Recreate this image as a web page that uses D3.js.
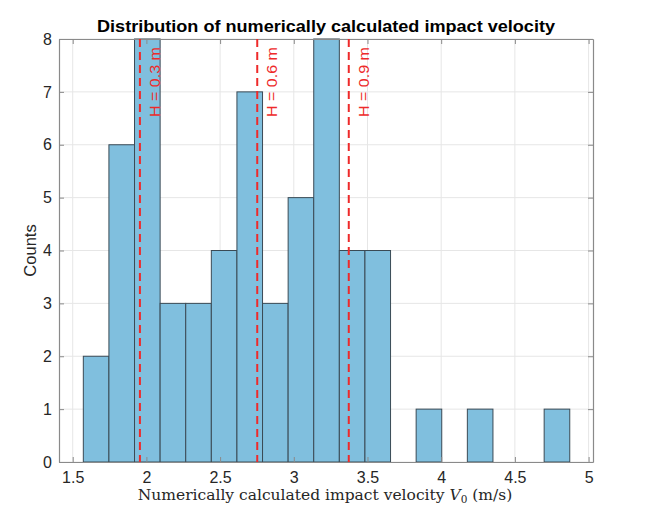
<!DOCTYPE html>
<html><head><meta charset="utf-8">
<script src="https://cdn.jsdelivr.net/npm/d3@7"></script>
<style>body{margin:0;background:#fff;} svg{display:block;}</style>
</head><body>
<svg id="c" width="649" height="508"></svg>
<script>
const binStart = 1.572;
const binWidth = 0.1737;
const counts = [2,6,8,3,3,4,7,3,5,8,4,4,0,1,0,1,0,0,1];
const refValues = [1.956, 2.752, 3.373];
const refLabels = ["H = 0.3 m", "H = 0.6 m", "H = 0.9 m"];
const xTicks = [1.5,2,2.5,3,3.5,4,4.5,5];
const yTicks = [0,1,2,3,4,5,6,7,8];
const title = "Distribution of numerically calculated impact velocity";

const svg = d3.select("#c");
const L=59, R=593, T=39, B=462;
const x = d3.scaleLinear().domain([1.407, 5.03]).range([L,R]);
const y = d3.scaleLinear().domain([0,8]).range([B,T]);
const sans = "Liberation Sans, Arial, sans-serif";

// grid
svg.append("g").selectAll("line").data(xTicks).join("line")
  .attr("x1",d=>x(d)).attr("x2",d=>x(d)).attr("y1",T).attr("y2",B)
  .attr("stroke","#e6e6e6").attr("stroke-width",1);
svg.append("g").selectAll("line").data(yTicks).join("line")
  .attr("y1",d=>y(d)).attr("y2",d=>y(d)).attr("x1",L).attr("x2",R)
  .attr("stroke","#e6e6e6").attr("stroke-width",1);

// bars
const bins = counts.map((c,i)=>({x0:binStart+i*binWidth, x1:binStart+(i+1)*binWidth, c}));
svg.append("g").selectAll("rect").data(bins.filter(b=>b.c>0)).join("rect")
  .attr("x",d=>x(d.x0)).attr("width",d=>x(d.x1)-x(d.x0))
  .attr("y",d=>y(d.c)).attr("height",d=>B-y(d.c))
  .attr("fill","#80bfde").attr("stroke","#3a4a55").attr("stroke-width",1);

// axes
const gx = svg.append("g").attr("transform",`translate(0,${B})`)
  .call(d3.axisBottom(x).tickValues(xTicks).tickSizeInner(-5).tickSizeOuter(0).tickPadding(10).tickFormat(d3.format("")));
const gxt = svg.append("g").attr("transform",`translate(0,${T})`)
  .call(d3.axisTop(x).tickValues(xTicks).tickSizeInner(-5).tickSizeOuter(0).tickFormat(""));
const gy = svg.append("g").attr("transform",`translate(${L},0)`)
  .call(d3.axisLeft(y).tickValues(yTicks).tickSizeInner(-5).tickSizeOuter(0).tickPadding(7));
const gyr = svg.append("g").attr("transform",`translate(${R},0)`)
  .call(d3.axisRight(y).tickValues(yTicks).tickSizeInner(-5).tickSizeOuter(0).tickFormat(""));
[gx,gxt,gy,gyr].forEach(g=>{
  g.select(".domain").attr("stroke","#8a8a8a").attr("stroke-width",1.2);
  g.selectAll(".tick line").attr("stroke","#8a8a8a");
  g.selectAll("text").attr("font-family",sans).attr("font-size",16).attr("fill","#262626");
});

// reference lines
const rg = svg.append("g");
rg.selectAll("line").data(refValues).join("line")
  .attr("x1",d=>x(d)).attr("x2",d=>x(d)).attr("y1",T).attr("y2",B)
  .attr("stroke","#ee2a2a").attr("stroke-width",2).attr("stroke-dasharray","8,5");
rg.selectAll("text").data(refValues).join("text")
  .attr("transform",d=>`translate(${x(d)+20},${T+8}) rotate(-90)`)
  .attr("text-anchor","end")
  .attr("font-family",sans).attr("font-size",15)
  .attr("textLength",70).attr("lengthAdjust","spacingAndGlyphs")
  .attr("fill","#ee2a2a").text((d,i)=>refLabels[i]);

// title
svg.append("text").attr("x",(L+R)/2).attr("y",32).attr("text-anchor","middle")
  .attr("font-family",sans).attr("font-weight","bold")
  .attr("font-size",16.5).attr("textLength",458).attr("lengthAdjust","spacingAndGlyphs")
  .attr("fill","#000").text(title);

// y label
svg.append("text").attr("transform",`translate(36,${(T+B)/2}) rotate(-90)`)
  .attr("text-anchor","middle").attr("font-family",sans)
  .attr("font-size",16.5).attr("fill","#262626").text("Counts");

// x label (serif, LaTeX-like)
const xl = svg.append("text").attr("x",(L+R)/2-1).attr("y",500).attr("text-anchor","middle")
  .attr("font-family","DejaVu Serif, Liberation Serif, serif").attr("font-size",15.5).attr("fill","#262626");
xl.append("tspan").text("Numerically calculated impact velocity ");
xl.append("tspan").attr("font-style","italic").text("V");
xl.append("tspan").attr("font-size",10.5).attr("dy",3).text("0");
xl.append("tspan").attr("dy",-3).text(" (m/s)");
</script>
</body></html>
